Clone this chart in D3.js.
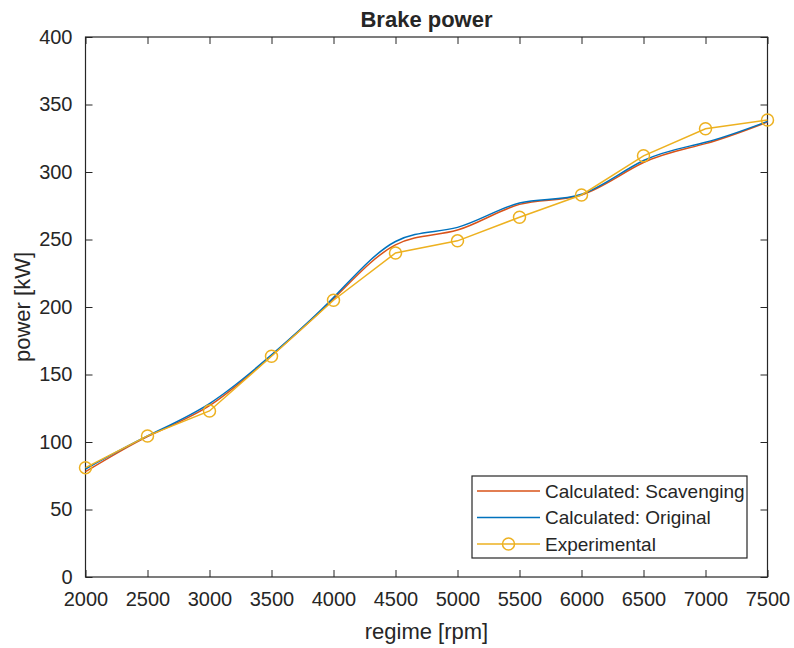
<!DOCTYPE html>
<html>
<head>
<meta charset="utf-8">
<script src="https://cdn.jsdelivr.net/npm/d3@7"></script>
<style>
  body { margin: 0; background: #fff; }
  text { font-family: "Liberation Sans", Arial, sans-serif; fill: #262626; }
</style>
</head>
<body>
<div id="visual"></div>
<script>
// data
var rpm = [2000, 2500, 3000, 3500, 4000, 4500, 5000, 5500, 6000, 6500, 7000, 7500];
var scavenging = [78, 104, 127, 164, 206, 246, 257, 276, 283, 307, 321, 337];
var original = [80, 104.5, 128.5, 164.5, 207, 248.5, 259, 277, 283.5, 308.5, 322, 337.5];
var experimental = [81, 104.5, 123, 163.5, 205, 240, 249, 266.5, 283, 312, 332, 338.5];
var xTicks = [2000, 2500, 3000, 3500, 4000, 4500, 5000, 5500, 6000, 6500, 7000, 7500];
var yTicks = [0, 50, 100, 150, 200, 250, 300, 350, 400];

var series = [
  {name: "Calculated: Scavenging", values: scavenging, color: "#D95319", marker: false},
  {name: "Calculated: Original", values: original, color: "#0072BD", marker: false},
  {name: "Experimental", values: experimental, color: "#EDB120", marker: true}
];

var W = 794, H = 648;
var margin = {top: 37, right: 26.5, bottom: 71, left: 85.5};
var width = W - margin.left - margin.right,
    height = H - margin.top - margin.bottom;

var svg = d3.select("#visual")
  .append("svg")
    .attr("width", W)
    .attr("height", H)
  .append("g")
    .attr("transform", "translate(" + margin.left + "," + margin.top + ")");

var x = d3.scaleLinear().domain([2000, 7500]).range([0, width]);
var y = d3.scaleLinear().domain([0, 400]).range([height, 0]);

var axisColor = "#262626";
var tickLen = 7;

// axes, ticks inward on all sides
var xAxis = svg.append("g")
  .attr("transform", "translate(0," + height + ")")
  .call(d3.axisBottom(x).tickValues(xTicks).tickFormat(d3.format("d"))
    .tickSizeInner(-tickLen).tickSizeOuter(0).tickPadding(15));
var yAxis = svg.append("g")
  .call(d3.axisLeft(y).tickValues(yTicks).tickFormat(d3.format("d"))
    .tickSizeInner(-tickLen).tickSizeOuter(0).tickPadding(13));
var xTop = svg.append("g")
  .call(d3.axisTop(x).tickValues(xTicks).tickSizeInner(-tickLen).tickSizeOuter(0).tickFormat(""));
var yRight = svg.append("g")
  .attr("transform", "translate(" + width + ",0)")
  .call(d3.axisRight(y).tickValues(yTicks).tickSizeInner(-tickLen).tickSizeOuter(0).tickFormat(""));

[xAxis, yAxis, xTop, yRight].forEach(function(a) {
  a.select(".domain").remove();
  a.selectAll("line").attr("stroke", axisColor).attr("stroke-width", 1);
  a.selectAll("text").style("font-size", "20px").attr("fill", axisColor)
    .style("font-family", "'Liberation Sans', Arial, sans-serif");
});

svg.append("rect")
  .attr("width", width)
  .attr("height", height)
  .attr("fill", "none")
  .attr("stroke", axisColor)
  .attr("stroke-width", 1.2);

// lines
var smooth = d3.line()
  .x(function(d) { return x(d[0]); })
  .y(function(d) { return y(d[1]); })
  .curve(d3.curveNatural);
var straight = d3.line()
  .x(function(d) { return x(d[0]); })
  .y(function(d) { return y(d[1]); });

series.forEach(function(s) {
  var pts = rpm.map(function(r, i) { return [r, s.values[i]]; });
  svg.append("path")
    .datum(pts)
    .attr("fill", "none")
    .attr("stroke", s.color)
    .attr("stroke-width", 1.5)
    .attr("d", s.marker ? straight : smooth);
  if (s.marker) {
    svg.selectAll(null)
      .data(pts)
      .enter()
      .append("circle")
      .attr("cx", function(d) { return x(d[0]); })
      .attr("cy", function(d) { return y(d[1]); })
      .attr("r", 6)
      .attr("fill", "none")
      .attr("stroke", s.color)
      .attr("stroke-width", 1.5);
  }
});

// title and labels
svg.append("text")
  .attr("x", width / 2)
  .attr("y", -10)
  .attr("text-anchor", "middle")
  .style("font-size", "22px")
  .style("font-weight", "bold")
  .attr("fill", "#000")
  .text("Brake power");

svg.append("text")
  .attr("x", width / 2)
  .attr("y", height + 62)
  .attr("text-anchor", "middle")
  .style("font-size", "22px")
  .text("regime [rpm]");

svg.append("text")
  .attr("transform", "translate(" + (-56) + "," + (height / 2) + ") rotate(-90)")
  .attr("text-anchor", "middle")
  .style("font-size", "22px")
  .text("power [kW]");

// legend
var lg = svg.append("g")
  .attr("transform", "translate(" + (472 - margin.left) + "," + (476 - margin.top) + ")");
lg.append("rect")
  .attr("width", 275)
  .attr("height", 82)
  .attr("fill", "#fff")
  .attr("stroke", axisColor)
  .attr("stroke-width", 1.2);
series.forEach(function(s, i) {
  var ry = 15 + i * 26.5;
  lg.append("line")
    .attr("x1", 5).attr("x2", 68)
    .attr("y1", ry).attr("y2", ry)
    .attr("stroke", s.color)
    .attr("stroke-width", 1.5);
  if (s.marker) {
    lg.append("circle")
      .attr("cx", 36.5).attr("cy", ry)
      .attr("r", 6)
      .attr("fill", "none")
      .attr("stroke", s.color)
      .attr("stroke-width", 1.5);
  }
  lg.append("text")
    .attr("x", 73)
    .attr("y", ry)
    .attr("dy", "0.35em")
    .style("font-size", "19px")
    .text(s.name);
});
</script>
</body>
</html>
